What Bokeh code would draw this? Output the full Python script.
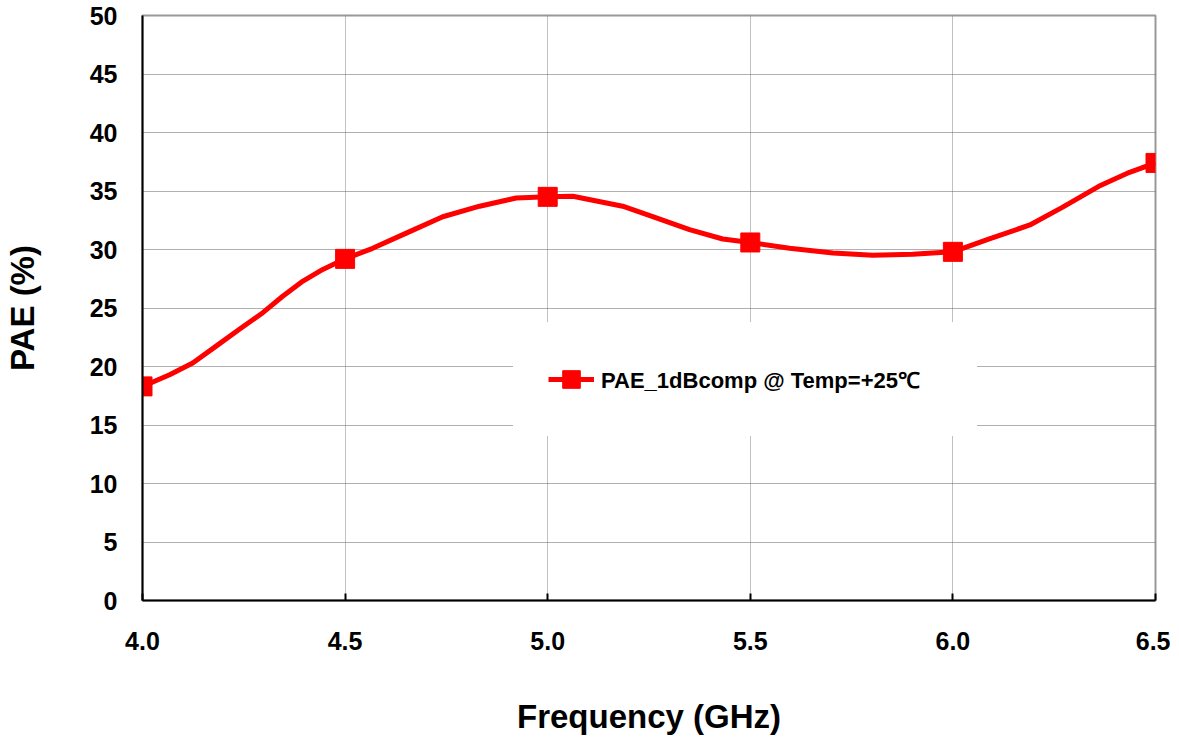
from bokeh.plotting import figure
from bokeh.models import Range1d, FixedTicker, NumeralTickFormatter, Legend, LegendItem
from bokeh.embed import file_html
from bokeh.resources import INLINE

# Measured points
freq = [4.0, 4.5, 5.0, 5.5, 6.0, 6.5]
pae = [18.3, 29.2, 34.5, 30.6, 29.8, 37.4]

# Smoothed curve
curve_x = [4.0, 4.067, 4.124, 4.18, 4.24, 4.297, 4.346, 4.396, 4.445, 4.5,
           4.568, 4.651, 4.741, 4.832, 4.922, 5.0, 5.062, 5.185, 5.268, 5.35,
           5.432, 5.5, 5.597, 5.704, 5.802, 5.901, 6.0, 6.09, 6.19, 6.27,
           6.36, 6.436, 6.5]
curve_y = [18.3, 19.3, 20.3, 21.7, 23.2, 24.6, 26.0, 27.3, 28.3, 29.2,
           30.1, 31.4, 32.8, 33.7, 34.4, 34.5, 34.55, 33.7, 32.7, 31.7,
           30.9, 30.6, 30.1, 29.7, 29.5, 29.6, 29.8, 30.9, 32.1, 33.6,
           35.4, 36.6, 37.4]

x_ticks = [4.0, 4.5, 5.0, 5.5, 6.0, 6.5]
y_ticks = [0, 5, 10, 15, 20, 25, 30, 35, 40, 45, 50]
legend_text = "PAE_1dBcomp @ Temp=+25\u2103"
x_title = "Frequency (GHz)"
y_title = "PAE (%)"

FONT = "Liberation Sans"

p = figure(frame_width=1013, frame_height=585,
           min_border_left=142, min_border_right=15, min_border_top=15, min_border_bottom=100,
           x_range=Range1d(4.0, 6.5), y_range=Range1d(0, 50),
           output_backend="svg", toolbar_location=None)
p.background_fill_color = "white"
p.border_fill_color = "white"
p.outline_line_color = "#999999"
p.outline_line_width = 2

# grids
p.xgrid.ticker = FixedTicker(ticks=x_ticks)
p.ygrid.ticker = FixedTicker(ticks=y_ticks)
p.xgrid.grid_line_color = "#808080"
p.ygrid.grid_line_color = "#606060"
p.xgrid.grid_line_dash = "1 1"
p.ygrid.grid_line_dash = "1 1"
p.xgrid.grid_line_width = 1
p.ygrid.grid_line_width = 1

# axes
for ax in (p.xaxis[0], p.yaxis[0]):
    ax.axis_line_color = "black"
    ax.axis_line_width = 2
    ax.major_tick_line_color = "black"
    ax.major_tick_line_width = 2
    ax.minor_tick_line_color = None
    ax.major_label_text_font = FONT
    ax.major_label_text_font_style = "bold"
    ax.major_label_text_font_size = "25px"
    ax.major_label_text_color = "black"
    ax.axis_label_text_font = FONT
    ax.axis_label_text_font_style = "bold"
    ax.axis_label_text_font_size = "33px"
    ax.axis_label_text_color = "black"

p.xaxis.ticker = FixedTicker(ticks=x_ticks)
p.xaxis.formatter = NumeralTickFormatter(format="0.0")
p.xaxis.major_tick_in = 7
p.xaxis.major_tick_out = 0
p.xaxis.major_label_standoff = 31
p.xaxis.axis_label = x_title
p.xaxis.axis_label_standoff = 45

p.yaxis.ticker = FixedTicker(ticks=y_ticks)
p.yaxis.major_tick_in = 0
p.yaxis.major_tick_out = 0
p.yaxis.major_label_standoff = 25
p.yaxis.axis_label = y_title
p.yaxis.axis_label_standoff = 46

line = p.line(curve_x, curve_y, line_color="#FF0000", line_width=5)
pts = p.scatter(freq, pae, marker="square", size=19, fill_color="#FF0000", line_color="#FF0000")

legend = Legend(items=[LegendItem(label=legend_text, renderers=[line, pts])],
                location=(371, 164), margin=0, padding=34,
                glyph_width=46, glyph_height=44, label_standoff=7, label_width=341,
                label_text_font=FONT, label_text_font_style="bold",
                label_text_font_size="22px", label_text_color="black",
                background_fill_color="white", background_fill_alpha=1.0,
                border_line_color="white", border_line_alpha=1.0)
p.add_layout(legend, "center")

open("out.html", "w").write(file_html(p, INLINE))
